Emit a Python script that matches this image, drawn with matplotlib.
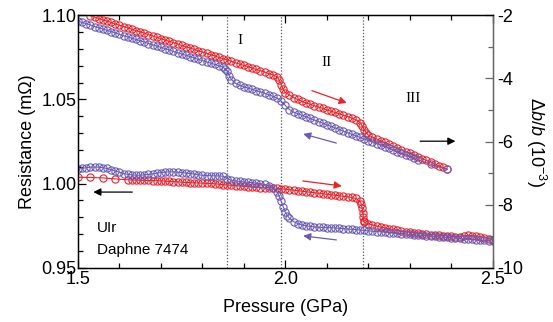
import matplotlib
matplotlib.use("Agg")
import matplotlib.pyplot as plt
from matplotlib.ticker import MultipleLocator, FormatStrFormatter

# ---- data ----
# upper curves: strain db/b (1e-3), right axis
P_RED_UP = [1.53, 1.54, 1.55, 1.56, 1.57, 1.58, 1.59, 1.60, 1.61, 1.62, 1.63, 1.64,
            1.65, 1.66, 1.67, 1.68, 1.69, 1.70, 1.71, 1.72, 1.73, 1.74, 1.75, 1.76,
            1.77, 1.78, 1.79, 1.80, 1.81, 1.82, 1.83, 1.84, 1.85, 1.86, 1.87, 1.88,
            1.89, 1.90, 1.91, 1.92, 1.93, 1.94, 1.95, 1.96, 1.97, 1.98, 1.985, 1.99,
            1.995, 2.00, 2.01, 2.02, 2.03, 2.04, 2.05, 2.06, 2.07, 2.08, 2.09, 2.10,
            2.11, 2.12, 2.13, 2.14, 2.15, 2.16, 2.17, 2.18, 2.185, 2.19, 2.195, 2.20,
            2.21, 2.22, 2.23, 2.24, 2.25, 2.26, 2.27, 2.28, 2.29, 2.30, 2.31, 2.32,
            2.33, 2.34, 2.35, 2.36, 2.37, 2.38, 2.39]
DB_RED_UP = [-2.02, -2.06, -2.11, -2.15, -2.19, -2.23, -2.28, -2.32, -2.36, -2.40, -2.45, -2.49,
             -2.53, -2.57, -2.62, -2.66, -2.70, -2.74, -2.79, -2.83, -2.87, -2.91, -2.96, -3.00,
             -3.04, -3.08, -3.13, -3.17, -3.21, -3.25, -3.29, -3.34, -3.38, -3.42, -3.46, -3.51,
             -3.55, -3.59, -3.63, -3.68, -3.72, -3.76, -3.80, -3.85, -3.89, -3.95, -4.05, -4.20,
             -4.35, -4.45, -4.53, -4.61, -4.67, -4.73, -4.78, -4.82, -4.87, -4.91, -4.95, -5.00,
             -5.04, -5.08, -5.12, -5.17, -5.21, -5.26, -5.31, -5.40, -5.50, -5.62, -5.72, -5.80,
             -5.86, -5.92, -5.98, -6.03, -6.09, -6.15, -6.20, -6.26, -6.32, -6.37, -6.43, -6.49,
             -6.54, -6.60, -6.65, -6.71, -6.77, -6.82, -6.88]

P_BLUE_UP = [1.50, 1.51, 1.52, 1.53, 1.54, 1.55, 1.56, 1.57, 1.58, 1.59, 1.60, 1.61,
             1.62, 1.63, 1.64, 1.65, 1.66, 1.67, 1.68, 1.69, 1.70, 1.71, 1.72, 1.73,
             1.74, 1.75, 1.76, 1.77, 1.78, 1.79, 1.80, 1.81, 1.82, 1.83, 1.84, 1.85,
             1.855, 1.86, 1.865, 1.87, 1.88, 1.89, 1.90, 1.91, 1.92, 1.93, 1.94, 1.95,
             1.96, 1.97, 1.98, 1.99, 2.00, 2.01, 2.02, 2.03, 2.04, 2.05, 2.06, 2.07,
             2.08, 2.09, 2.10, 2.11, 2.12, 2.13, 2.14, 2.15, 2.16, 2.17, 2.18, 2.19,
             2.20, 2.21, 2.22, 2.23, 2.24, 2.25, 2.26, 2.27, 2.28, 2.29, 2.30, 2.31,
             2.32, 2.35, 2.39]
DB_BLUE_UP = [-2.19, -2.23, -2.27, -2.31, -2.36, -2.40, -2.44, -2.48, -2.52, -2.56, -2.61, -2.65,
              -2.69, -2.73, -2.77, -2.81, -2.85, -2.90, -2.94, -2.98, -3.02, -3.06, -3.10, -3.15,
              -3.19, -3.23, -3.27, -3.31, -3.35, -3.40, -3.44, -3.48, -3.52, -3.56, -3.60, -3.65,
              -3.70, -3.78, -3.92, -4.04, -4.16, -4.22, -4.27, -4.31, -4.35, -4.39, -4.43, -4.47,
              -4.52, -4.57, -4.63, -4.72, -4.86, -4.99, -5.07, -5.12, -5.17, -5.22, -5.27, -5.32,
              -5.37, -5.42, -5.47, -5.52, -5.57, -5.62, -5.67, -5.72, -5.77, -5.82, -5.87, -5.92,
              -5.97, -6.02, -6.07, -6.12, -6.17, -6.22, -6.27, -6.32, -6.37, -6.42, -6.47, -6.52,
              -6.57, -6.72, -6.88]

# lower curves: resistance (mOhm), left axis
P_RED_LOW = [1.50, 1.53, 1.56, 1.59, 1.62, 1.63, 1.64, 1.65, 1.66, 1.67, 1.68, 1.69,
             1.70, 1.71, 1.72, 1.73, 1.74, 1.75, 1.76, 1.77, 1.78, 1.79, 1.80, 1.81,
             1.82, 1.83, 1.84, 1.85, 1.86, 1.87, 1.88, 1.89, 1.90, 1.91, 1.92, 1.93,
             1.94, 1.95, 1.96, 1.97, 1.98, 1.99, 2.00, 2.01, 2.02, 2.03, 2.04, 2.05,
             2.06, 2.07, 2.08, 2.09, 2.10, 2.11, 2.12, 2.13, 2.14, 2.15, 2.16, 2.17,
             2.18, 2.183, 2.185, 2.187, 2.188, 2.189, 2.19, 2.20, 2.21, 2.22, 2.23, 2.24,
             2.25, 2.26, 2.27, 2.28, 2.29, 2.30, 2.31, 2.32, 2.33, 2.34, 2.35, 2.36,
             2.37, 2.38, 2.39, 2.40, 2.41, 2.42, 2.43, 2.44, 2.45, 2.46, 2.47, 2.48,
             2.49, 2.50]
R_RED_LOW = [1.0038, 1.0037, 1.0034, 1.0028, 1.0023, 1.0022, 1.0021, 1.0020, 1.0019, 1.0019, 1.0018, 1.0017,
             1.0016, 1.0015, 1.0013, 1.0012, 1.0010, 1.0009, 1.0007, 1.0006, 1.0005, 1.0004, 1.0003, 1.0002,
             1.0001, 0.9999, 0.9997, 0.9994, 0.9992, 0.9990, 0.9988, 0.9986, 0.9984, 0.9982, 0.9980, 0.9978,
             0.9977, 0.9976, 0.9975, 0.9975, 0.9972, 0.9970, 0.9967, 0.9964, 0.9961, 0.9958, 0.9955, 0.9952,
             0.9949, 0.9946, 0.9943, 0.9940, 0.9937, 0.9934, 0.9931, 0.9928, 0.9925, 0.9922, 0.9918, 0.9912,
             0.9895, 0.9880, 0.9855, 0.9825, 0.9800, 0.9780, 0.9770, 0.9762, 0.9755, 0.9748, 0.9742, 0.9737,
             0.9732, 0.9728, 0.9724, 0.9718, 0.9714, 0.9711, 0.9708, 0.9705, 0.9702, 0.9700, 0.9698, 0.9696,
             0.9694, 0.9692, 0.9690, 0.9688, 0.9686, 0.9684, 0.9690, 0.9693, 0.9692, 0.9690, 0.9686, 0.9680,
             0.9674, 0.9668]

P_BLUE_LOW = [1.50, 1.51, 1.52, 1.53, 1.54, 1.55, 1.56, 1.57, 1.58, 1.59, 1.60, 1.61,
              1.62, 1.63, 1.64, 1.65, 1.66, 1.67, 1.68, 1.69, 1.70, 1.71, 1.72, 1.73,
              1.74, 1.75, 1.76, 1.77, 1.78, 1.79, 1.80, 1.81, 1.82, 1.83, 1.84, 1.85,
              1.86, 1.87, 1.88, 1.89, 1.90, 1.91, 1.92, 1.93, 1.94, 1.95, 1.96, 1.97,
              1.98, 1.985, 1.99, 1.995, 2.00, 2.005, 2.01, 2.02, 2.03, 2.04, 2.05, 2.06,
              2.07, 2.08, 2.09, 2.10, 2.11, 2.12, 2.13, 2.14, 2.15, 2.16, 2.17, 2.18,
              2.19, 2.20, 2.21, 2.22, 2.23, 2.24, 2.25, 2.26, 2.27, 2.28, 2.29, 2.30,
              2.31, 2.32, 2.33, 2.34, 2.35, 2.36, 2.37, 2.38, 2.39, 2.40, 2.41, 2.42,
              2.43, 2.44, 2.45, 2.46, 2.47, 2.48, 2.49, 2.50]
R_BLUE_LOW = [1.0085, 1.0090, 1.0095, 1.0098, 1.0099, 1.0098, 1.0095, 1.0090, 1.0083, 1.0075, 1.0068, 1.0060,
              1.0055, 1.0052, 1.0050, 1.0050, 1.0052, 1.0055, 1.0058, 1.0062, 1.0066, 1.0068, 1.0070, 1.0070,
              1.0068, 1.0066, 1.0063, 1.0060, 1.0057, 1.0053, 1.0050, 1.0048, 1.0047, 1.0046, 1.0046, 1.0044,
              1.0030, 1.0020, 1.0016, 1.0013, 1.0010, 1.0008, 1.0006, 1.0003, 1.0000, 0.9995, 0.9988, 0.9975,
              0.9950, 0.9925, 0.9895, 0.9862, 0.9830, 0.9810, 0.9795, 0.9775, 0.9763, 0.9755, 0.9750, 0.9746,
              0.9743, 0.9741, 0.9740, 0.9739, 0.9738, 0.9737, 0.9735, 0.9733, 0.9731, 0.9729, 0.9727, 0.9725,
              0.9722, 0.9720, 0.9718, 0.9716, 0.9714, 0.9712, 0.9710, 0.9708, 0.9706, 0.9704, 0.9702, 0.9699,
              0.9697, 0.9695, 0.9693, 0.9691, 0.9689, 0.9687, 0.9685, 0.9683, 0.9681, 0.9679, 0.9677, 0.9675,
              0.9673, 0.9671, 0.9669, 0.9667, 0.9665, 0.9663, 0.9661, 0.9660]

# phase boundaries (GPa)
BOUNDARIES = [1.859, 1.989, 2.187]
PHASE_LABELS = ["I", "II", "III"]

RED = "#e8232b"
BLUE = "#6a5bb4"

plt.rcParams["font.family"] = ["Liberation Sans", "DejaVu Sans"]
plt.rcParams["axes.unicode_minus"] = False
plt.rcParams["mathtext.fontset"] = "custom"
plt.rcParams["mathtext.rm"] = "Liberation Sans"
plt.rcParams["mathtext.it"] = "Liberation Sans:italic"

fig = plt.figure(figsize=(5.53, 3.22), dpi=100)
ax = fig.add_axes([0.141, 0.168, 0.750, 0.785])
ax2 = ax.twinx()

mk = dict(marker="o", markersize=5.2, markerfacecolor="none",
          markeredgewidth=0.8, linewidth=0.8)

ax.plot(P_RED_LOW, R_RED_LOW, color=RED, **mk)
ax.plot(P_BLUE_LOW, R_BLUE_LOW, color=BLUE, **mk)
ax2.plot(P_RED_UP, DB_RED_UP, color=RED, **mk)
ax2.plot(P_BLUE_UP, DB_BLUE_UP, color=BLUE, **mk)

for b in BOUNDARIES:
    ax.axvline(b, color="#555555", linestyle=(0, (1, 1.5)), linewidth=0.9, zorder=0)

ax.set_xlim(1.5, 2.5)
ax.set_ylim(0.95, 1.10)
ax2.set_ylim(-10, -2)

ax.xaxis.set_major_locator(MultipleLocator(0.5))
ax.xaxis.set_minor_locator(MultipleLocator(0.1))
ax.xaxis.set_major_formatter(FormatStrFormatter("%.1f"))
ax.yaxis.set_major_locator(MultipleLocator(0.05))
ax.yaxis.set_minor_locator(MultipleLocator(0.01))
ax.yaxis.set_major_formatter(FormatStrFormatter("%.2f"))
ax2.yaxis.set_major_locator(MultipleLocator(2))
ax2.yaxis.set_minor_locator(MultipleLocator(1))

ax.tick_params(which="both", direction="in", top=True, right=False, labelsize=13)
ax.tick_params(which="major", length=6, width=0.9)
ax.tick_params(which="minor", length=3.5, width=0.9)
ax.tick_params(axis="y", pad=1)
ax.tick_params(axis="x", pad=2)
ax2.tick_params(which="both", direction="in", labelsize=13, color="#666666", pad=3)
ax2.tick_params(which="major", length=6, width=0.9)
ax2.tick_params(which="minor", length=3.5, width=0.9)

for s in ["left", "bottom", "top"]:
    ax.spines[s].set_linewidth(1.0)
ax2.spines["right"].set_color("#666666")
ax2.spines["right"].set_linewidth(1.0)

ax.set_xlabel("Pressure (GPa)", fontsize=13, labelpad=8)
ax.set_ylabel("Resistance (m\u03a9)", fontsize=13, labelpad=4)
ax2.set_ylabel(r"$\Delta b/b\ (10^{-3})$", fontsize=13, rotation=270, labelpad=18)

# phase labels
for lab, (xf, yf) in zip(PHASE_LABELS, [(0.390, 0.90), (0.600, 0.812), (0.808, 0.672)]):
    ax.text(xf, yf, lab, transform=ax.transAxes, ha="center", va="center",
            family="Liberation Serif", fontsize=11)

ax.text(0.046, 0.158, "UIr", transform=ax.transAxes, ha="left", va="center", fontsize=11)
ax.text(0.046, 0.071, "Daphne 7474", transform=ax.transAxes, ha="left", va="center", fontsize=11)

# direction arrows
arr = dict(arrowstyle="-|>", mutation_scale=11, linewidth=0.9, shrinkA=0, shrinkB=0)
ax2.annotate("", xy=(2.148, -4.78), xytext=(2.064, -4.39), arrowprops=dict(color=RED, **arr))
ax2.annotate("", xy=(2.043, -5.76), xytext=(2.123, -6.05), arrowprops=dict(color=BLUE, **arr))
ax2.annotate("", xy=(2.410, -5.99), xytext=(2.325, -5.99), arrowprops=dict(color="black", **arr))
ax.annotate("", xy=(1.537, 0.995), xytext=(1.631, 0.995), arrowprops=dict(color="black", **arr))
ax.annotate("", xy=(2.136, 0.9986), xytext=(2.042, 1.0016), arrowprops=dict(color=RED, **arr))
ax.annotate("", xy=(2.043, 0.9690), xytext=(2.123, 0.9666), arrowprops=dict(color=BLUE, **arr))

fig.savefig("out.png", dpi=100)
